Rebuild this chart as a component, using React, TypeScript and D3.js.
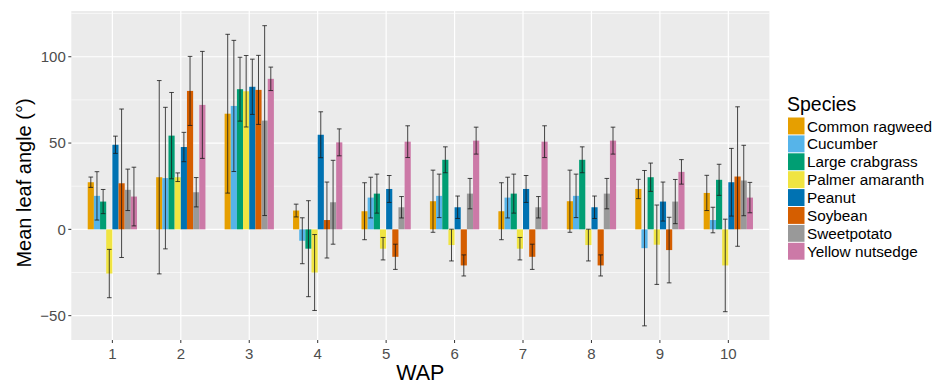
import * as d3 from "d3";

const WAP = ["1", "2", "3", "4", "5", "6", "7", "8", "9", "10"];

const SPECIES = [
  "Common ragweed",
  "Cucumber",
  "Large crabgrass",
  "Palmer amaranth",
  "Peanut",
  "Soybean",
  "Sweetpotato",
  "Yellow nutsedge",
];

const COLORS = ["#E69F00", "#56B4E9", "#009E73", "#F0E442", "#0072B2", "#D55E00", "#999999", "#CC79A7"];

// mean leaf angle per species, WAP 1..10
const commonRagweed = [27.3, 30.2, 67, 10.9, 10.5, 16.3, 10.5, 16.3, 23.4, 21.1];
const cucumber = [19.4, 29.7, 71.5, -6.6, 18.4, 19.4, 18.4, 19.4, -10.9, 5.4];
const largeCrabgrass = [16.1, 54.3, 81.2, -11.2, 20.7, 40.3, 20.7, 40.3, 30.2, 28.7];
const palmerAmaranth = [-25.6, 30.2, 80, -25, -11.2, -9.1, -11.2, -9.1, -8.9, -20.9];
const peanut = [49, 47.7, 82.6, 54.8, 23.4, 12.8, 23.4, 12.8, 16.1, 27.3];
const soybean = [26.7, 80.2, 80.8, 5.4, -15.9, -20.9, -15.9, -20.9, -12, 30.6];
const sweetpotato = [22.9, 21.5, 63, 15.7, 12.8, 20.7, 12.8, 20.7, 16.1, 28.3];
const yellowNutsedge = [19, 72.1, 87.2, 50.4, 50.8, 51.4, 50.8, 51.4, 33.3, 18.4];

// error bar half-widths
const commonRagweedErr = [3, 56, 46, 3.7, 16.5, 18, 16.5, 18, 5.6, 10.2];
const cucumberErr = [14, 41, 38, 13.3, 11.8, 12.6, 11.8, 12.6, 45, 7.4];
const largeCrabgrassErr = [7, 25, 18.5, 27.8, 11.3, 7.5, 11.3, 7.5, 8.2, 9];
const palmerAmaranthErr = [14, 2.5, 20.7, 22, 6.5, 9.2, 6.5, 9.2, 23, 26.8];
const peanutErr = [5, 8.5, 16, 13.3, 7.8, 6.5, 7.8, 6.5, 11.3, 19.6];
const soybeanErr = [43, 20, 20, 22, 7.3, 6.1, 7.3, 6.1, 19, 40.4];
const sweetpotatoErr = [12, 8.5, 55, 24.3, 6.2, 8.8, 6.2, 8.8, 12.8, 20.4];
const yellowNutsedgeErr = [17, 31, 6.8, 7.8, 9.2, 7.8, 9.2, 7.8, 7.1, 8.8];

const Y_TICKS = [-50, 0, 50, 100];
const Y_MINOR = [-25, 25, 75, 125];

const MEANS = [commonRagweed, cucumber, largeCrabgrass, palmerAmaranth, peanut, soybean, sweetpotato, yellowNutsedge];
const ERRS = [commonRagweedErr, cucumberErr, largeCrabgrassErr, palmerAmaranthErr, peanutErr, soybeanErr, sweetpotatoErr, yellowNutsedgeErr];

const FONT = "'Liberation Sans', Arial, sans-serif";

export default function App() {
  const width = 937;
  const height = 384;
  const panel = { left: 71.3, right: 769.4, top: 11, bottom: 340 };

  const x = d3.scalePoint<string>().domain(WAP).range([panel.left, panel.right]).padding(0.6);
  const step = x.step();
  const dodge = step * 0.72;
  const xi = d3.scaleBand<string>().domain(SPECIES).range([-dodge / 2, dodge / 2]);
  const y = d3.scaleLinear().domain([-64.1, 126.5]).range([panel.bottom, panel.top]);

  const rows = SPECIES.flatMap((sp, s) =>
    WAP.map((w, i) => ({ sp, w, s, mean: MEANS[s][i], err: ERRS[s][i] }))
  );
  const bw = xi.bandwidth();
  const cap = bw * 0.75;

  return (
    <svg width={width} height={height} style={{ position: "absolute", left: 0, top: 0, background: "#fff" }} fontFamily={FONT}>
      <rect x={panel.left} y={panel.top} width={panel.right - panel.left} height={panel.bottom - panel.top} fill="#EBEBEB" />
      {Y_MINOR.filter((v) => y(v) >= panel.top).map((v) => (
        <line key={"mn" + v} x1={panel.left} x2={panel.right} y1={y(v)} y2={y(v)} stroke="#fff" strokeWidth={0.6} />
      ))}
      {Y_TICKS.map((v) => (
        <line key={"mj" + v} x1={panel.left} x2={panel.right} y1={y(v)} y2={y(v)} stroke="#fff" strokeWidth={1.2} />
      ))}
      {WAP.map((w) => (
        <line key={"vx" + w} x1={x(w)} x2={x(w)} y1={panel.top} y2={panel.bottom} stroke="#fff" strokeWidth={1.2} />
      ))}

      {rows.map((d) => {
        const x0 = (x(d.w) as number) + (xi(d.sp) as number);
        return (
          <rect
            key={"b" + d.sp + d.w}
            x={x0}
            width={bw}
            y={Math.min(y(0), y(d.mean))}
            height={Math.abs(y(d.mean) - y(0))}
            fill={COLORS[d.s]}
          />
        );
      })}

      {rows.map((d) => {
        const cx = (x(d.w) as number) + (xi(d.sp) as number) + bw / 2;
        const y1 = y(d.mean + d.err);
        const y2 = y(d.mean - d.err);
        return (
          <g key={"e" + d.sp + d.w} stroke="#1a1a1a" strokeWidth={1} strokeOpacity={0.8}>
            <line x1={cx} x2={cx} y1={y1} y2={y2} />
            <line x1={cx - cap / 2} x2={cx + cap / 2} y1={y1} y2={y1} />
            <line x1={cx - cap / 2} x2={cx + cap / 2} y1={y2} y2={y2} />
          </g>
        );
      })}

      {/* y axis */}
      {Y_TICKS.map((v) => (
        <g key={"yt" + v}>
          <line x1={panel.left - 3} x2={panel.left} y1={y(v)} y2={y(v)} stroke="#333" strokeWidth={1} />
          <text x={panel.left - 5.5} y={y(v)} dy="0.36em" textAnchor="end" fontSize={15} fill="#4D4D4D">
            {v < 0 ? "\u2212" + Math.abs(v) : String(v)}
          </text>
        </g>
      ))}
      {/* x axis */}
      {WAP.map((w) => (
        <g key={"xt" + w}>
          <line x1={x(w)} x2={x(w)} y1={panel.bottom} y2={panel.bottom + 3} stroke="#333" strokeWidth={1} />
          <text x={x(w)} y={359} textAnchor="middle" fontSize={15} fill="#4D4D4D">
            {w}
          </text>
        </g>
      ))}

      <text x={(panel.left + panel.right) / 2} y={380} textAnchor="middle" fontSize={21.5} fill="#000">
        WAP
      </text>
      <text transform={`translate(30.5,183) rotate(-90)`} textAnchor="middle" fontSize={20} fill="#000">
        Mean leaf angle (°)
      </text>

      {/* legend */}
      <text x={787} y={110.5} fontSize={19.5} fill="#000">
        Species
      </text>
      {SPECIES.map((sp, s) => {
        const top = 117 + s * 17.9;
        return (
          <g key={"lg" + sp}>
            <rect x={788} y={top + 0.5} width={16.5} height={16.9} fill={COLORS[s]} />
            <text x={807} y={top + 9} dy="0.36em" fontSize={15.3} fill="#000">
              {sp}
            </text>
          </g>
        );
      })}
    </svg>
  );
}
